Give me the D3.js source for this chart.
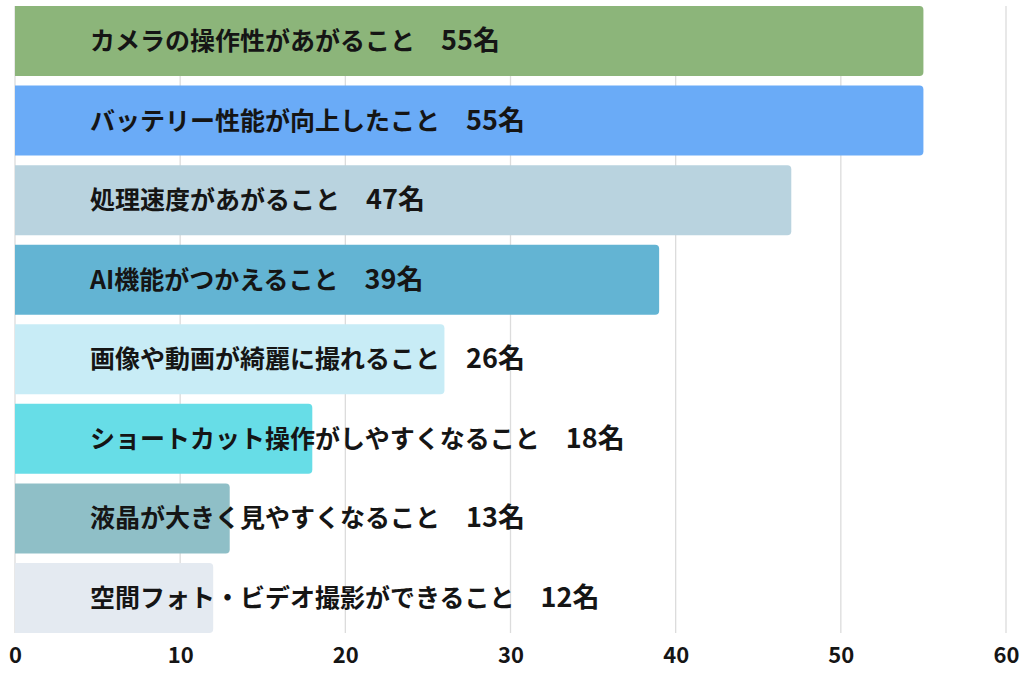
<!DOCTYPE html>
<html>
<head>
<meta charset="utf-8">
<script src="https://cdn.jsdelivr.net/npm/d3@7"></script>
<style>
  html, body { margin: 0; padding: 0; background: #fff; }
  svg { display: block; }
</style>
</head>
<body>
<div id="chart"></div>
<script>
// data
const categories = [
  "カメラの操作性があがること",
  "バッテリー性能が向上したこと",
  "処理速度があがること",
  "AI機能がつかえること",
  "画像や動画が綺麗に撮れること",
  "ショートカット操作がしやすくなること",
  "液晶が大きく見やすくなること",
  "空間フォト・ビデオ撮影ができること"
];
const counts = [55, 55, 47, 39, 26, 18, 13, 12];
const barColors = ["#8cb57a", "#6aabf7", "#b9d3df", "#63b4d3", "#c8ecf6", "#67dde7", "#8fbfc7", "#e4eaf1"];
const xTicks = [0, 10, 20, 30, 40, 50, 60];

const WIDTH = 1024, HEIGHT = 674;
const margin = { top: 6, right: 18, bottom: 41, left: 15 };
const FONT = "'Noto Sans CJK JP', 'Noto Sans', sans-serif";

const svg = d3.select("#chart").append("svg")
  .attr("width", WIDTH)
  .attr("height", HEIGHT);

const x = d3.scaleLinear()
  .domain([0, 60])
  .range([margin.left, WIDTH - margin.right]);

const y = d3.scaleBand()
  .domain(categories)
  .range([margin.top, HEIGHT - margin.bottom])
  .paddingInner(0.12)
  .paddingOuter(0);

// grid lines
svg.append("g")
  .selectAll("line")
  .data(xTicks)
  .join("line")
  .attr("x1", d => x(d)).attr("x2", d => x(d))
  .attr("y1", margin.top).attr("y2", HEIGHT - margin.bottom)
  .attr("stroke", "#dcdcdc")
  .attr("stroke-width", 1.3);

// bars: square on the left, rounded on the right
const r = 4;
function barPath(d, i) {
  const x0 = x(0), x1 = x(d), y0 = y(categories[i]), h = y.bandwidth();
  return `M${x0},${y0}H${x1 - r}Q${x1},${y0} ${x1},${y0 + r}V${y0 + h - r}Q${x1},${y0 + h} ${x1 - r},${y0 + h}H${x0}Z`;
}

svg.append("g")
  .selectAll("path")
  .data(counts)
  .join("path")
  .attr("d", (d, i) => barPath(d, i))
  .attr("fill", (d, i) => barColors[i]);

// labels inside bars
const labels = svg.append("g")
  .selectAll("text")
  .data(categories)
  .join("text")
  .attr("x", 90)
  .attr("y", d => y(d) + y.bandwidth() / 2)
  .attr("dy", "0.36em")
  .attr("font-family", FONT)
  .attr("font-weight", 700)
  .attr("font-size", 25)
  .attr("fill", "#151515");

labels.append("tspan").text(d => d);
labels.append("tspan")
  .attr("dx", 26)
  .attr("font-size", 27)
  .text((d, i) => `${counts[i]}名`);

// x axis
const xAxis = d3.axisBottom(x)
  .tickValues(xTicks)
  .tickSize(0)
  .tickPadding(14);

const gx = svg.append("g")
  .attr("transform", `translate(0,${HEIGHT - margin.bottom})`)
  .call(xAxis);
gx.select(".domain").remove();
gx.selectAll("text")
  .attr("font-family", FONT)
  .attr("font-weight", 700)
  .attr("font-size", 22)
  .attr("fill", "#151515");
</script>
</body>
</html>
